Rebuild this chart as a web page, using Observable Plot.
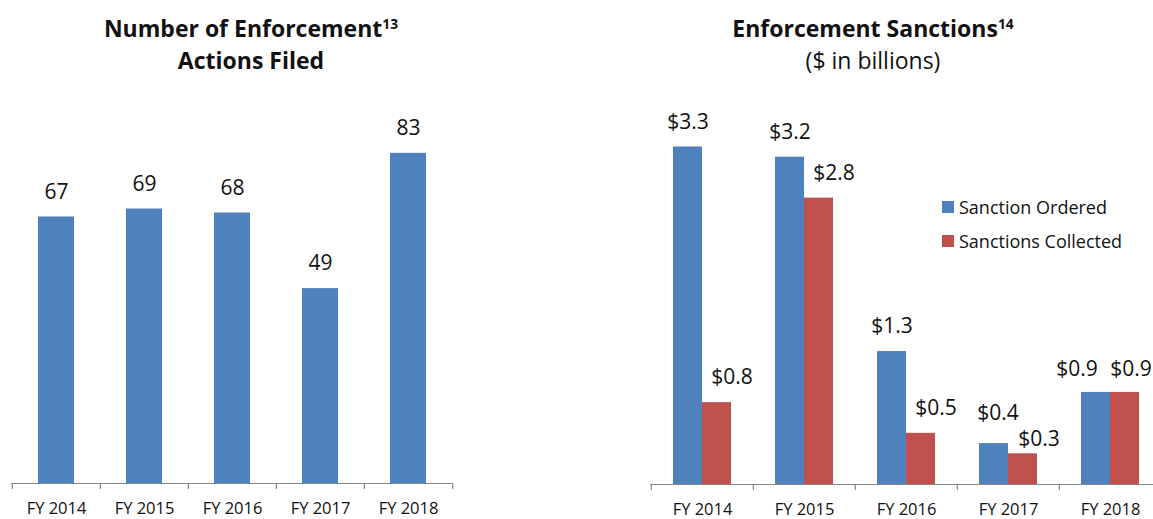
<!DOCTYPE html>
<html>
<head>
<meta charset="utf-8">
<script src="https://cdn.jsdelivr.net/npm/d3@7"></script>
<script src="https://cdn.jsdelivr.net/npm/@observablehq/plot@0.6"></script>
<style>
  html, body { margin: 0; padding: 0; background: #fff; overflow: hidden; }
  #root { position: relative; width: 1153px; height: 519px; overflow: hidden; font-family: "Open Sans", Lato, sans-serif; color: #111; }
  .title { position: absolute; text-align: center; white-space: nowrap; line-height: 32px; font-size: 23px; }
  .title b { font-weight: 700; }
  .title sup { font-size: 0.6em; line-height: 0; vertical-align: 0.55em; }
  .legend { position: absolute; left: 942px; font-size: 18px; }
  .legend .row { display: flex; align-items: center; height: 34px; }
  .legend .sw { width: 12px; height: 12px; margin-right: 5px; }
  .chart { position: absolute; top: 0; }
</style>
</head>
<body>
<div id="root">
  <div class="title" style="left:51px; width:400px; top:12px;"><b>Number of Enforcement<sup>13</sup><br>Actions Filed</b></div>
  <div class="title" style="left:673px; width:400px; top:12px;"><b>Enforcement Sanctions<sup>14</sup></b><br>($ in billions)</div>
  <div class="legend" style="top:190px;">
    <div class="row"><div class="sw" style="background:#4F81BD"></div>Sanction Ordered</div>
    <div class="row"><div class="sw" style="background:#C0504D"></div>Sanctions Collected</div>
  </div>
  <div class="chart" id="left" style="left:0px; width:470px;"></div>
  <div class="chart" id="right" style="left:580px; width:600px;"></div>
</div>
<script>
// ---- Data ----
const years = ["FY 2014", "FY 2015", "FY 2016", "FY 2017", "FY 2018"];
const actionsFiled = [67, 69, 68, 49, 83];
const sanctionsOrdered = [3.3, 3.2, 1.3, 0.4, 0.9];
const sanctionsCollected = [0.8, 2.8, 0.5, 0.3, 0.9];
const seriesNames = ["Sanction Ordered", "Sanctions Collected"];

const blue = "#4F81BD", red = "#C0504D", axisGray = "#868686";
const font = '"Open Sans", Lato, sans-serif';

const actions = years.map((y, i) => ({year: y, value: actionsFiled[i]}));
const sanctions = years.map((y, i) => ({year: y, ordered: sanctionsOrdered[i], collected: sanctionsCollected[i]}));

// ---- Left chart ----
{
  const W = 470, H = 519, mL = 11, mR = 18, mT = 125, mB = 36;
  const step = (W - mL - mR) / years.length;
  const pin = 1 - 36 / step;
  const plotH = H - mT - mB;
  const chart = Plot.plot({
    width: W, height: H,
    marginLeft: mL, marginRight: mR, marginTop: mT, marginBottom: mB,
    style: {fontFamily: font, fontSize: "16.5px", color: "#111", background: "transparent", maxWidth: "none"},
    x: {domain: years, paddingInner: pin, paddingOuter: pin / 2, tickSize: 0, tickPadding: 19, label: null},
    y: {domain: [0, 90], axis: null},
    marks: [
      Plot.barY(actions, {x: "year", y: "value", fill: blue}),
      Plot.ruleY([0], {stroke: axisGray, strokeWidth: 1.2}),
      Plot.ruleX(years, {x: d => d, dx: -step / 2, stroke: axisGray, strokeWidth: 1.2, insetTop: plotH, insetBottom: -6}),
      Plot.ruleX(years.slice(-1), {x: d => d, dx: step / 2, stroke: axisGray, strokeWidth: 1.2, insetTop: plotH, insetBottom: -6}),
      Plot.text(actions, {x: "year", y: "value", text: d => String(d.value), dy: -25, fontSize: 21, fill: "#111"})
    ]
  });
  document.getElementById("left").appendChild(chart);
}

// ---- Right chart ----
{
  const W = 600, H = 519, mL = 70, mR = 18, mT = 126, mB = 35;
  const step = (W - mL - mR) / years.length;
  const groupW = 58;
  const pin = 1 - groupW / step;
  const plotH = H - mT - mB;
  const fmt = v => "$" + v.toFixed(1);
  const last = years[years.length - 1], prev = years[years.length - 2];
  const regular = d => d.year !== last && d.year !== prev;
  const chart = Plot.plot({
    width: W, height: H,
    marginLeft: mL, marginRight: mR, marginTop: mT, marginBottom: mB,
    style: {fontFamily: font, fontSize: "16.5px", color: "#111", background: "transparent", maxWidth: "none"},
    x: {domain: years, paddingInner: pin, paddingOuter: pin / 2, tickSize: 0, tickPadding: 19, label: null},
    y: {domain: [0, 3.5], axis: null},
    marks: [
      Plot.barY(sanctions, {x: "year", y: "ordered", fill: blue, insetRight: groupW / 2}),
      Plot.barY(sanctions, {x: "year", y: "collected", fill: red, insetLeft: groupW / 2}),
      Plot.ruleY([0], {stroke: axisGray, strokeWidth: 1.2}),
      Plot.ruleX(years, {x: d => d, dx: -step / 2, stroke: axisGray, strokeWidth: 1.2, insetTop: plotH, insetBottom: -6}),
      Plot.ruleX(years.slice(-1), {x: d => d, dx: step / 2, stroke: axisGray, strokeWidth: 1.2, insetTop: plotH, insetBottom: -6}),
      // labels (placed like the reference: collected labels sit to the right of their bars)
      Plot.text(sanctions, {filter: regular, x: "year", y: "ordered", text: d => fmt(d.ordered), dx: -groupW / 4, dy: -25, fontSize: 21, fill: "#111"}),
      Plot.text(sanctions, {filter: regular, x: "year", y: "collected", text: d => fmt(d.collected), dx: groupW / 4 + 15, dy: -25, fontSize: 21, fill: "#111"}),
      Plot.text(sanctions, {filter: d => d.year === prev, x: "year", y: "ordered", text: d => fmt(d.ordered), dx: -groupW / 4 + 4, dy: -30, fontSize: 21, fill: "#111"}),
      Plot.text(sanctions, {filter: d => d.year === prev, x: "year", y: "collected", text: d => fmt(d.collected), dx: groupW / 4 + 16, dy: -15, fontSize: 21, fill: "#111"}),
      Plot.text(sanctions, {filter: d => d.year === last, x: "year", y: "ordered", text: d => fmt(d.ordered), dx: -groupW / 4 - 19, dy: -23, fontSize: 21, fill: "#111"}),
      Plot.text(sanctions, {filter: d => d.year === last, x: "year", y: "collected", text: d => fmt(d.collected), dx: groupW / 4 + 6, dy: -23, fontSize: 21, fill: "#111"})
    ]
  });
  document.getElementById("right").appendChild(chart);
}
</script>
</body>
</html>
